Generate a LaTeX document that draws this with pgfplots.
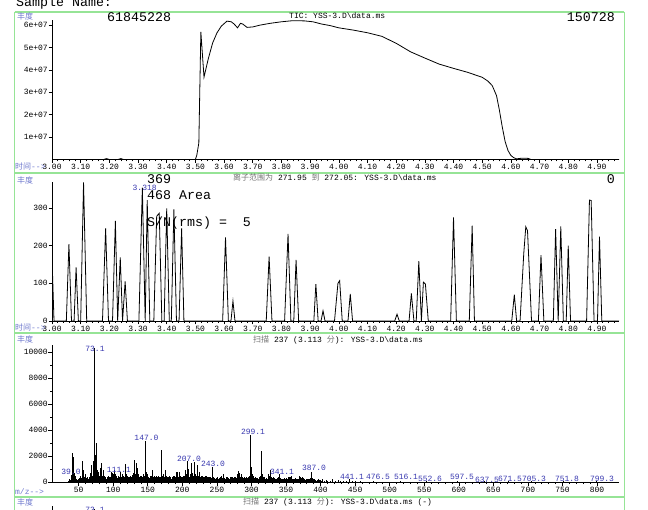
\documentclass[border=0pt]{standalone}
\usepackage{fontspec}
\setmainfont{Liberation Mono}[Ligatures=NoCommon]
\setmonofont{Liberation Mono}
\newfontfamily\cjk{Noto Sans CJK SC}
\usepackage{pgfplots}
\pgfplotsset{compat=1.18}
\usepackage{pgfplotstable}

\definecolor{frm}{RGB}{150,228,150}
\definecolor{lbl}{RGB}{110,120,205}
\definecolor{pk}{RGB}{55,55,175}
\definecolor{hdr}{RGB}{115,115,115}

\newcommand\bigmono{\fontsize{13.3}{14}\selectfont}
\newcommand\sm{\fontsize{8}{9}\selectfont}

% scan 237, m/z vs abundance
\pgfplotstableread[row sep=\\]{
m I\\
35 60\\ 36 120\\ 37 200\\ 38 150\\ 39 550\\ 40 300\\ 41 2250\\ 42 600\\ 43 1950\\ 44 700\\
45 500\\ 46 150\\ 47 250\\ 48 120\\ 49 200\\ 50 180\\ 51 300\\ 52 250\\ 53 450\\ 54 300\\
55 1650\\ 56 500\\ 57 900\\ 58 350\\ 59 600\\ 60 250\\ 61 300\\ 62 200\\ 63 350\\ 64 250\\
65 300\\ 66 400\\ 67 700\\ 68 450\\ 69 1300\\ 70 500\\ 71 1600\\ 72 700\\ 73 10300\\ 74 2100\\
75 3000\\ 76 600\\ 77 900\\ 78 400\\ 79 800\\ 80 500\\ 81 1100\\ 82 450\\ 83 1450\\ 84 500\\
85 900\\ 86 350\\ 87 500\\ 88 300\\ 89 400\\ 90 250\\ 91 350\\ 92 300\\ 93 450\\ 94 250\\
95 400\\ 96 350\\ 97 800\\ 98 500\\ 99 700\\ 100 600\\ 101 900\\ 102 400\\ 103 600\\ 104 350\\
105 500\\ 106 300\\ 107 450\\ 108 350\\ 109 400\\ 110 300\\ 111 800\\ 112 400\\ 113 650\\ 114 300\\
115 500\\ 116 350\\ 117 1400\\ 118 400\\ 119 600\\ 120 300\\ 121 450\\ 122 350\\ 123 400\\ 124 300\\
125 500\\ 126 400\\ 127 550\\ 128 450\\ 129 700\\ 130 500\\ 131 1700\\ 132 600\\ 133 1500\\ 134 500\\
135 1080\\ 136 400\\ 137 600\\ 138 350\\ 139 450\\ 140 300\\ 141 500\\ 142 350\\ 143 600\\ 144 400\\
145 500\\ 146 300\\ 147 3150\\ 148 800\\ 149 600\\ 150 350\\ 151 400\\ 152 300\\ 153 450\\ 154 350\\
155 500\\ 156 400\\ 157 900\\ 158 350\\ 159 450\\ 160 300\\ 161 400\\ 162 300\\ 163 500\\ 164 350\\
165 450\\ 166 300\\ 167 400\\ 168 350\\ 169 2450\\ 170 700\\ 171 500\\ 172 400\\ 173 600\\ 174 350\\
175 900\\ 176 400\\ 177 500\\ 178 300\\ 179 400\\ 180 350\\ 181 450\\ 182 300\\ 183 400\\ 184 250\\
185 350\\ 186 300\\ 187 450\\ 188 350\\ 189 500\\ 190 400\\ 191 700\\ 192 800\\ 193 750\\ 194 400\\
195 800\\ 196 350\\ 197 450\\ 198 300\\ 199 400\\ 200 350\\ 201 450\\ 202 300\\ 203 500\\ 204 400\\
205 900\\ 206 600\\ 207 1650\\ 208 700\\ 209 1000\\ 210 400\\ 211 600\\ 212 500\\ 213 1450\\ 214 400\\
215 700\\ 216 450\\ 217 1000\\ 218 1550\\ 219 600\\ 220 500\\ 221 1300\\ 222 600\\ 223 450\\ 224 350\\
225 800\\ 226 400\\ 227 500\\ 228 350\\ 229 450\\ 230 300\\ 231 400\\ 232 350\\ 233 450\\ 234 300\\
235 500\\ 236 350\\ 237 400\\ 238 300\\ 239 350\\ 240 250\\ 241 400\\ 242 300\\ 243 1150\\ 244 400\\
245 350\\ 246 250\\ 247 300\\ 248 200\\ 249 300\\ 250 250\\ 251 350\\ 252 200\\ 253 300\\ 254 250\\
255 350\\ 256 300\\ 257 450\\ 258 300\\ 259 600\\ 260 350\\ 261 300\\ 262 250\\ 263 400\\ 264 300\\
265 350\\ 266 250\\ 267 300\\ 268 200\\ 269 350\\ 270 300\\ 271 400\\ 272 250\\ 273 350\\ 274 300\\
275 400\\ 276 250\\ 277 350\\ 278 300\\ 279 600\\ 280 500\\ 281 850\\ 282 450\\ 283 700\\ 284 400\\
285 600\\ 286 350\\ 287 400\\ 288 300\\ 289 350\\ 290 250\\ 291 300\\ 292 250\\ 293 350\\ 294 300\\
295 400\\ 296 350\\ 297 500\\ 298 400\\ 299 3650\\ 300 1150\\ 301 600\\ 302 400\\ 303 500\\ 304 300\\
305 350\\ 306 250\\ 307 300\\ 308 200\\ 309 300\\ 310 250\\ 311 350\\ 312 300\\ 313 450\\ 314 700\\
315 2350\\ 316 600\\ 317 400\\ 318 300\\ 319 350\\ 320 250\\ 321 300\\ 322 200\\ 323 250\\ 324 300\\
325 600\\ 326 500\\ 327 900\\ 328 800\\ 329 400\\ 330 300\\ 331 350\\ 332 250\\ 333 300\\ 334 200\\
335 250\\ 336 200\\ 337 300\\ 338 250\\ 339 350\\ 340 300\\ 341 600\\ 342 300\\ 343 250\\ 344 200\\
345 250\\ 346 200\\ 347 300\\ 348 200\\ 349 250\\ 350 200\\ 351 300\\ 352 250\\ 353 350\\ 354 300\\
355 400\\ 356 350\\ 357 450\\ 358 300\\ 359 250\\ 360 200\\ 361 250\\ 362 200\\ 363 300\\ 364 250\\
365 200\\ 366 150\\ 367 250\\ 368 200\\ 369 450\\ 370 350\\ 371 400\\ 372 300\\ 373 350\\ 374 250\\
375 300\\ 376 200\\ 377 250\\ 378 150\\ 379 200\\ 380 150\\ 381 200\\ 382 250\\ 383 150\\ 384 200\\
385 300\\ 386 250\\ 387 800\\ 388 300\\ 389 200\\ 390 150\\ 391 200\\ 392 100\\ 393 150\\ 394 100\\
395 150\\ 396 100\\ 397 200\\ 398 150\\ 399 100\\ 400 150\\ 401 80\\ 403 200\\ 405 100\\ 408 150\\
410 60\\ 414 100\\ 417 200\\ 421 80\\ 425 150\\ 428 60\\ 433 100\\ 437 80\\ 441 200\\ 446 60\\
451 100\\ 457 60\\ 476.5 60\\ 516.1 50\\ 552.6 50\\ 597.5 50\\ 637.5 40\\ 671.5 40\\ 705.3 40\\ 751.8 40\\
799.3 40\\
}\spec

\pgfplotsset{
  chem/.style={
    scale only axis, width=567pt, anchor=south west,
    axis lines=left, axis line style={-, line width=0.8pt},
    tick align=outside, major tick length=3.5pt, minor tick length=2pt,
    tick style={black, line width=0.6pt},
    ticklabel style={font=\sm},
    /pgf/number format/assume math mode=true,
    /pgf/number format/1000 sep={},
    scaled ticks=false,
    xticklabel style={inner sep=1pt},
    yticklabel style={inner sep=0.5pt},
    ymin=0,
  },
  timeax/.style={chem, xmin=3.0, xmax=4.977, xtick distance=0.1, minor x tick num=4,
    xticklabel style={/pgf/number format/.cd, fixed, fixed zerofill, precision=2}},
  mzax/.style={chem, xmin=11.4, xmax=831.8, xtick={50,100,...,800}, minor x tick num=4,
    ymax=10540, ytick={0,2000,...,10000}, minor y tick num=1},
}

\begin{document}
\begin{tikzpicture}
\path[use as bounding box] (0,0) rectangle (648pt,509pt);

% total ion chromatogram
\begin{axis}[timeax, at={(52pt,349.5pt)}, height=139.5pt, ymax=6.23e7,
  ytick={1e7,2e7,3e7,4e7,5e7,6e7},
  yticklabels={1e+07,2e+07,3e+07,4e+07,5e+07,6e+07}]
\addplot[black, line width=0.8pt] coordinates {
 (3.00,0) (3.18,0) (3.19,0.04e7) (3.20,0) (3.23,0) (3.24,0.04e7) (3.25,0) (3.50,0)
 (3.505,0.2e7) (3.512,0.74e7) (3.519,5.7e7) (3.530,3.68e7) (3.545,4.5e7) (3.56,5.2e7)
 (3.575,5.65e7) (3.59,5.95e7) (3.61,6.18e7) (3.625,6.15e7) (3.635,6.05e7) (3.647,5.88e7)
 (3.657,6.08e7) (3.665,6.05e7) (3.68,5.9e7) (3.70,5.92e7) (3.725,6.0e7) (3.76,6.08e7)
 (3.80,6.15e7) (3.84,6.2e7) (3.88,6.19e7) (3.91,6.15e7) (3.94,6.05e7) (3.97,5.98e7)
 (4.00,5.88e7) (4.05,5.78e7) (4.10,5.66e7) (4.15,5.5e7) (4.20,5.19e7) (4.25,4.81e7)
 (4.30,4.53e7) (4.35,4.26e7) (4.40,4.07e7) (4.45,3.89e7) (4.50,3.67e7) (4.52,3.5e7)
 (4.535,3.3e7) (4.55,2.85e7) (4.56,2.2e7) (4.57,1.45e7) (4.58,0.8e7) (4.59,0.4e7)
 (4.60,0.18e7) (4.61,0.08e7) (4.62,0.03e7) (4.64,0.06e7) (4.66,0.05e7) (4.67,0) (4.977,0)
};
\end{axis}

% extracted ion 271.95-272.05
\begin{axis}[timeax, at={(52pt,188pt)}, height=139pt, ymax=369,
  ytick={0,100,200,300}]
\addplot[black, line width=0.8pt] coordinates {
 (3.000,170) (3.007,0) (3.050,0) (3.059,204) (3.068,0) (3.077,0) (3.084,142) (3.092,0)
 (3.100,0) (3.110,368) (3.121,0) (3.176,0) (3.187,246) (3.197,0) (3.211,0) (3.221,266)
 (3.229,0) (3.238,169) (3.246,0) (3.255,105) (3.263,0) (3.303,0) (3.315,354) (3.325,0)
 (3.332,321) (3.341,0) (3.355,0) (3.365,278) (3.374,286) (3.383,0) (3.391,0) (3.400,299)
 (3.409,0) (3.416,0) (3.425,296) (3.434,0) (3.443,0) (3.452,246) (3.460,0) (3.595,0)
 (3.605,222) (3.615,0) (3.624,0) (3.631,53) (3.638,0) (3.747,0) (3.757,171) (3.767,0)
 (3.811,0) (3.823,231) (3.833,0) (3.843,0) (3.851,162) (3.860,0) (3.913,0) (3.920,98)
 (3.928,0) (3.938,0) (3.945,27) (3.952,0) (3.985,0) (3.997,100) (4.003,107) (4.012,0)
 (4.032,0) (4.040,72) (4.048,0) (4.195,0) (4.203,18) (4.211,0) (4.245,0) (4.253,73)
 (4.262,0) (4.270,0) (4.279,159) (4.288,0) (4.295,103) (4.302,98) (4.312,0) (4.390,0)
 (4.400,275) (4.410,0) (4.455,0) (4.465,253) (4.473,0) (4.603,0) (4.612,70) (4.620,0)
 (4.632,0) (4.645,180) (4.652,250) (4.658,240) (4.672,0) (4.696,0) (4.705,175) (4.715,0)
 (4.748,0) (4.756,244) (4.765,0) (4.774,251) (4.783,0) (4.793,0) (4.800,200) (4.808,0)
 (4.864,0) (4.874,321) (4.880,320) (4.890,0) (4.902,0) (4.909,224) (4.917,0) (4.977,0)
};
\addplot[red, line width=0.8pt] coordinates {(3.295,0) (3.342,0)};
\end{axis}

% mass spectrum, scan 237
\begin{axis}[mzax, at={(52pt,27pt)}, height=137pt]
\addplot[ycomb, black, line width=0.7pt] table[x=m, y=I] {\spec};
\end{axis}

% background-subtracted spectrum, only its top shows on the page
\begin{axis}[mzax, at={(52pt,-133.5pt)}, height=137pt, xticklabels={}, yticklabels={}]
\addplot[ycomb, black, line width=0.7pt] table[x=m, y=I] {\spec};
\end{axis}

\begin{scope}[x=1pt, y=-1pt, shift={(0pt,509pt)}]
% frames
\draw[frm, line width=1pt] (14.7,12) -- (14.7,515) (624,12) -- (624,515);
\draw[frm, line width=1.2pt] (14.7,12) -- (624,12);
\draw[frm, line width=2pt] (14.7,173) -- (624,173) (14.7,333) -- (624,333) (14.7,497) -- (624,497);

\tikzset{t/.style={inner sep=0, anchor=base west}}
\node[t, font=\bigmono] at (16,6.5) {Sample Name:};
\node[t, font=\bigmono] at (107,21.7) {61845228};
\node[t, font=\bigmono, anchor=base east] at (615,21.7) {150728};
\node[t, font=\sm] at (289,18.5) {TIC: YSS-3.D\textbackslash data.ms};
\node[t, font=\sm\cjk, lbl] at (17,20) {丰度};
\node[t, font=\sm, lbl] at (15,170) {{\cjk 时间}-{}-{}>};

\node[t, font=\sm\cjk, lbl] at (17,183.5) {丰度};
\node[t, font=\sm] at (233,180.7) {\textcolor{hdr}{\cjk 离子范围为} 271.95 \textcolor{hdr}{\cjk 到} 272.05: YSS-3.D\textbackslash data.ms};
\node[t, font=\bigmono] at (147,184) {369};
\node[t, font=\bigmono] at (147,199.3) {468 Area};
\node[t, font=\bigmono] at (147,227) {S/N(rms) =\ \ 5};
\node[t, font=\bigmono, anchor=base east] at (615,184) {0};
\node[t, font=\sm, pk, anchor=base] at (144.7,191) {3.318};
\node[t, font=\sm, lbl] at (15,331) {{\cjk 时间}-{}-{}>};

\node[t, font=\sm\cjk, lbl] at (17,342.5) {丰度};
\node[t, font=\sm] at (253,342.3) {\textcolor{hdr}{\cjk 扫描} 237 (3.113 \textcolor{hdr}{\cjk 分}): YSS-3.D\textbackslash data.ms};
\node[t, font=\sm, lbl] at (15,494) {m/z-{}-{}>};
\tikzset{p/.style={inner sep=0, anchor=base, font=\sm, pk}}
\node[p] at (95,352) {73.1};
\node[p] at (71,474) {39.0};
\node[p] at (119,472) {111.1};
\node[p] at (146.5,440) {147.0};
\node[p] at (189,461) {207.0};
\node[p] at (213,466) {243.0};
\node[p] at (253,434.5) {299.1};
\node[p] at (282,474) {341.1};
\node[p] at (314,471) {387.0};
\node[p] at (352,479) {441.1};
\node[p] at (378,479) {476.5};
\node[p] at (406,479) {516.1};
\node[p] at (430,481) {552.6};
\node[p] at (462,479) {597.5};
\node[p] at (487,482) {637.5};
\node[p] at (510,481) {671.5};
\node[p] at (534,481) {705.3};
\node[p] at (567,481) {751.8};
\node[p] at (602,481) {799.3};

\node[t, font=\sm\cjk, lbl] at (17,505.5) {丰度};
\node[t, font=\sm] at (243,504.3) {\textcolor{hdr}{\cjk 扫描} 237 (3.113 \textcolor{hdr}{\cjk 分}): YSS-3.D\textbackslash data.ms (-)};
\node[p] at (95,512.5) {73.1};
\end{scope}
\end{tikzpicture}
\end{document}
